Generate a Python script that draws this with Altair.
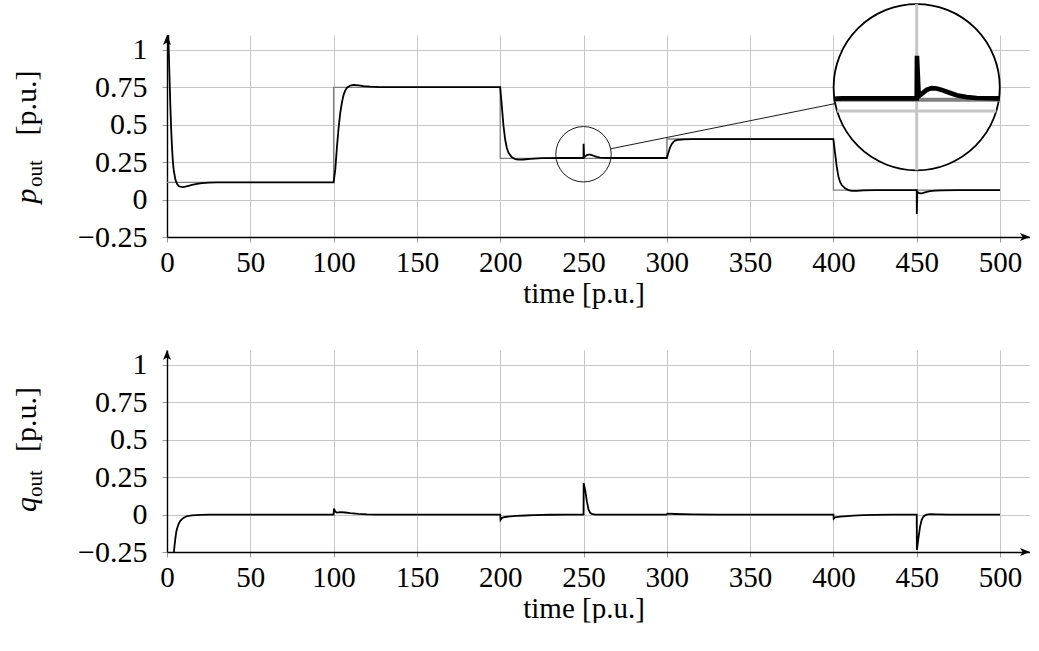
import math
import altair as alt
import pandas as pd

# ---------------- data ----------------
p_time = [0, 0.5, 1, 1.5, 2, 2.5, 3, 3.5, 4, 5, 6, 7, 8, 9.5, 11, 13, 15, 18, 21, 25, 30,
          100, 101, 102, 103, 104, 105, 106, 107, 108, 110, 112, 115, 118, 122, 128, 140,
          200, 201, 202, 203, 204, 205, 207, 209, 211, 214, 218, 225, 235,
          250, 250.05, 250.4, 251, 252, 253, 254, 255, 256, 257, 258, 260, 262, 266, 275,
          300, 301, 302, 303, 304, 305, 307, 310, 315,
          400, 401, 402, 403, 404, 405, 407, 409, 411, 414, 418, 425,
          450, 450.05, 450.4, 451, 452, 453, 454, 456, 458, 461, 465, 475, 500]
p_val = [1.35, 1.2, 1.02, 0.82, 0.63, 0.47, 0.35, 0.26, 0.2, 0.135, 0.105, 0.091, 0.086, 0.084, 0.086, 0.092, 0.098, 0.105, 0.11, 0.113, 0.115,
         0.115, 0.2, 0.35, 0.48, 0.58, 0.65, 0.7, 0.73, 0.748, 0.762, 0.767, 0.764, 0.759, 0.755, 0.752, 0.752,
         0.752, 0.62, 0.49, 0.4, 0.345, 0.312, 0.283, 0.271, 0.267, 0.268, 0.272, 0.277, 0.278,
         0.278, 0.373, 0.283, 0.288, 0.297, 0.301, 0.300, 0.297, 0.293, 0.289, 0.285, 0.281, 0.279, 0.278, 0.278,
         0.278, 0.315, 0.35, 0.372, 0.386, 0.394, 0.400, 0.403, 0.404,
         0.404, 0.31, 0.22, 0.155, 0.118, 0.097, 0.075, 0.063, 0.058, 0.058, 0.061, 0.063,
         0.063, -0.097, 0.052, 0.046, 0.042, 0.042, 0.045, 0.051, 0.056, 0.06, 0.062, 0.063, 0.063]

ref_time = [0, 100, 200, 300, 400, 500]
ref_val = [0.115, 0.75, 0.275, 0.405, 0.063, 0.063]

q_time = [0, 2, 3, 4, 4.5, 5, 5.5, 6, 7, 8, 9, 10, 12, 15, 20, 25,
          100, 100.2, 101, 102, 104, 107, 110, 115, 120, 126,
          200, 200.2, 201, 203, 206, 210, 215, 220, 230, 240,
          250, 250.1, 251, 252, 253, 254, 255, 257,
          300, 300.3, 305, 315, 330,
          400, 400.2, 401, 404, 408, 412, 418, 425, 435,
          450, 450.1, 451, 452, 453, 454, 455, 456, 458, 462, 470, 500]
q_val = [-0.7, -0.5, -0.38, -0.27, -0.21, -0.16, -0.12, -0.095, -0.062, -0.042, -0.03, -0.021, -0.011, -0.005, -0.002, 0,
         0, 0.04, 0.02, 0.013, 0.016, 0.014, 0.01, 0.005, 0.002, 0,
         0, -0.035, -0.022, -0.016, -0.012, -0.009, -0.006, -0.004, -0.001, 0,
         0, 0.21, 0.165, 0.09, 0.035, 0.012, 0.004, 0,
         0, 0.006, 0.004, 0.002, 0,
         0, -0.027, -0.018, -0.014, -0.01, -0.007, -0.004, -0.002, 0,
         0, -0.235, -0.16, -0.08, -0.035, -0.014, -0.005, 0.0, 0.003, 0.002, 0, 0]

x_ticks = [0, 50, 100, 150, 200, 250, 300, 350, 400, 450, 500]
y_ticks = [-0.25, 0, 0.25, 0.5, 0.75, 1]

# ---------------- layout / style ----------------
FONT = "Liberation Serif"
FS = 30
FSX = 29
X_MAX = 518
Y_MIN, Y_MAX = -0.25, 1.1
W, H = 863, 202
PX_T = W / X_MAX
PX_V = H / (Y_MAX - Y_MIN)
GRID = "#c6c6c6"
REF_COLOR = "#808080"

# spy (magnifier) geometry
SPY_T, SPY_V = 250, 0.303
R_SMALL = 27.7
MAG = 3
R_BIG = R_SMALL * MAG
BX, BY = 749.7, 52.2  # centre of the big circle, in plot pixels

p_df = pd.DataFrame({"t": p_time, "v": p_val})
ref_df = pd.DataFrame({"t": ref_time, "v": ref_val})
q_df = pd.DataFrame({"t": q_time, "v": q_val})

xscale = alt.Scale(domain=[0, X_MAX], nice=False, zero=False)
yscale = alt.Scale(domain=[Y_MIN, Y_MAX], nice=False, zero=False)


def x_axis():
    return alt.Axis(values=x_ticks, title="time [p.u.]", grid=True, gridColor=GRID, gridWidth=1,
                    domainColor="black", domainWidth=1.4, tickColor="#9a9a9a", tickSize=5, tickWidth=1,
                    labelFont=FONT, labelFontSize=FSX, labelColor="black", labelPadding=6,
                    labelFlush=False, labelOverlap=False,
                    titleFont=FONT, titleFontSize=FSX, titleFontWeight="normal", titleColor="black",
                    titlePadding=2, titleX=500 * PX_T / 2, titleAlign="center")


def y_axis():
    return alt.Axis(values=y_ticks, title=None, grid=True, gridColor=GRID, gridWidth=1,
                    domainColor="black", domainWidth=1.4, tickColor="#9a9a9a", tickSize=5, tickWidth=1,
                    labelFont=FONT, labelFontSize=FS, labelColor="black", labelPadding=15,
                    labelFlush=False, labelOverlap=False, format=".2~f")


ARROW_UP = "M0,0 L-0.4,1 L0,0.75 L0.4,1 Z"
ARROW_RIGHT = "M0,0 L-1,-0.4 L-0.75,0 L-1,0.4 Z"


def arrows():
    up = alt.Chart(pd.DataFrame({"t": [0], "v": [Y_MAX]})).mark_point(
        shape=ARROW_UP, filled=True, color="black", size=400, opacity=1).encode(
        x=alt.X("t:Q", scale=xscale), y=alt.Y("v:Q", scale=yscale))
    right = alt.Chart(pd.DataFrame({"t": [X_MAX], "v": [Y_MIN]})).mark_point(
        shape=ARROW_RIGHT, filled=True, color="black", size=400, opacity=1).encode(
        x=alt.X("t:Q", scale=xscale), y=alt.Y("v:Q", scale=yscale))
    return [up, right]


def ylabel(letter, y_letter, y_sub, y_unit):
    one = pd.DataFrame({"k": [0]})
    a = alt.Chart(one).mark_text(text=letter, font=FONT, fontSize=FS, fontStyle="italic", angle=270,
                                 align="left", baseline="alphabetic", color="black").encode(
        x=alt.value(-131), y=alt.value(y_letter))
    b = alt.Chart(one).mark_text(text="out", font=FONT, fontSize=21, angle=270,
                                 align="left", baseline="alphabetic", color="black").encode(
        x=alt.value(-125), y=alt.value(y_sub))
    c = alt.Chart(one).mark_text(text="[p.u.]", font=FONT, fontSize=FS, angle=270,
                                 align="left", baseline="alphabetic", color="black").encode(
        x=alt.value(-131), y=alt.value(y_unit))
    return [a, b, c]


# ---------------- top chart ----------------
ref_line = alt.Chart(ref_df).mark_line(interpolate="step-after", color=REF_COLOR, strokeWidth=1.3).encode(
    x=alt.X("t:Q", scale=xscale, axis=x_axis()),
    y=alt.Y("v:Q", scale=yscale, axis=y_axis()))
p_line = alt.Chart(p_df).mark_line(color="black", strokeWidth=1.8, clip=True).encode(
    x=alt.X("t:Q", scale=xscale), y=alt.Y("v:Q", scale=yscale))

small_circle = alt.Chart(pd.DataFrame({"t": [SPY_T], "v": [SPY_V]})).mark_point(
    shape="circle", filled=False, color="black", strokeWidth=0.9, size=(2 * R_SMALL) ** 2, opacity=1).encode(
    x=alt.X("t:Q", scale=xscale), y=alt.Y("v:Q", scale=yscale))

sx, sy = SPY_T * PX_T, (Y_MAX - SPY_V) * PX_V
dxc, dyc = BX - sx, BY - sy
dc = math.hypot(dxc, dyc)
ux, uy = dxc / dc, dyc / dc
connector = alt.Chart(pd.DataFrame({"k": [0]})).mark_rule(color="black", strokeWidth=0.9).encode(
    x=alt.value(sx + R_SMALL * ux), y=alt.value(sy + R_SMALL * uy),
    x2=alt.value(BX - R_BIG * ux), y2=alt.value(BY - R_BIG * uy))

main_top = alt.layer(ref_line, p_line, small_circle, connector, *arrows(),
                     *ylabel("p", 168.5, 152, 100.5))

# inset (magnified view)
rt = R_SMALL / PX_T
rv = R_SMALL / PX_V
ix = alt.Scale(domain=[SPY_T - rt, SPY_T + rt], range=[BX - R_BIG, BX + R_BIG], clamp=True, nice=False, zero=False)
iy = alt.Scale(domain=[SPY_V - rv, SPY_V + rv], range=[BY + R_BIG, BY - R_BIG], clamp=True, nice=False, zero=False)


def chord_t(v):
    dy = (v - SPY_V) * PX_V * MAG
    return math.sqrt(max(R_BIG ** 2 - dy ** 2, 0)) / (PX_T * MAG)


big_circle = alt.Chart(pd.DataFrame({"t": [SPY_T], "v": [SPY_V]})).mark_circle(
    fill="white", stroke="black", strokeWidth=1.8, size=(2 * R_BIG) ** 2, opacity=1, fillOpacity=1).encode(
    x=alt.X("t:Q", scale=ix, axis=None), y=alt.Y("v:Q", scale=iy, axis=None))

vg_df = pd.DataFrame([{"t": t, "v0": SPY_V - rv, "v1": SPY_V + rv} for t in x_ticks if abs(t - SPY_T) < rt])
hg_df = pd.DataFrame([{"v": v, "t0": SPY_T - chord_t(v), "t1": SPY_T + chord_t(v)}
                      for v in y_ticks if abs(v - SPY_V) < rv])
inset_vgrid = alt.Chart(vg_df).mark_rule(color=GRID, strokeWidth=1 * MAG).encode(
    x=alt.X("t:Q", scale=ix, axis=None), y=alt.Y("v0:Q", scale=iy, axis=None), y2="v1:Q")
inset_hgrid = alt.Chart(hg_df).mark_rule(color=GRID, strokeWidth=1 * MAG).encode(
    x=alt.X("t0:Q", scale=ix, axis=None), x2="t1:Q", y=alt.Y("v:Q", scale=iy, axis=None))

ref_here = [v for t, v in zip(ref_time, ref_val) if t <= SPY_T][-1]
iref_df = pd.DataFrame({"v": [ref_here], "t0": [SPY_T - chord_t(ref_here)], "t1": [SPY_T + chord_t(ref_here)]})
inset_ref = alt.Chart(iref_df).mark_rule(color=REF_COLOR, strokeWidth=1.3 * MAG).encode(
    x=alt.X("t0:Q", scale=ix, axis=None), x2="t1:Q", y=alt.Y("v:Q", scale=iy, axis=None))

ip_df = p_df[(p_df.t >= SPY_T - rt - 12) & (p_df.t <= SPY_T + rt + 12)]
inset_p = alt.Chart(ip_df).mark_line(color="black", strokeWidth=1.55 * MAG).encode(
    x=alt.X("t:Q", scale=ix, axis=None), y=alt.Y("v:Q", scale=iy, axis=None))

inset = alt.layer(big_circle, inset_vgrid, inset_hgrid, inset_ref, inset_p)

top = alt.layer(main_top, inset).resolve_scale(x="independent", y="independent").properties(width=W, height=H)

# ---------------- bottom chart ----------------
q_line = alt.Chart(q_df).mark_line(color="black", strokeWidth=1.8, clip=True).encode(
    x=alt.X("t:Q", scale=xscale, axis=x_axis()),
    y=alt.Y("v:Q", scale=yscale, axis=y_axis()))
bottom = alt.layer(q_line, *arrows(), *ylabel("q", 162, 147, 102)).properties(width=W, height=H)

chart = alt.vconcat(top, bottom, spacing=41).properties(
    padding={"left": 12, "top": 0, "right": 0, "bottom": 0},
    background="white",
).configure_view(stroke=None)

chart.save("out.html", embed_options={"renderer": "svg", "actions": False})
